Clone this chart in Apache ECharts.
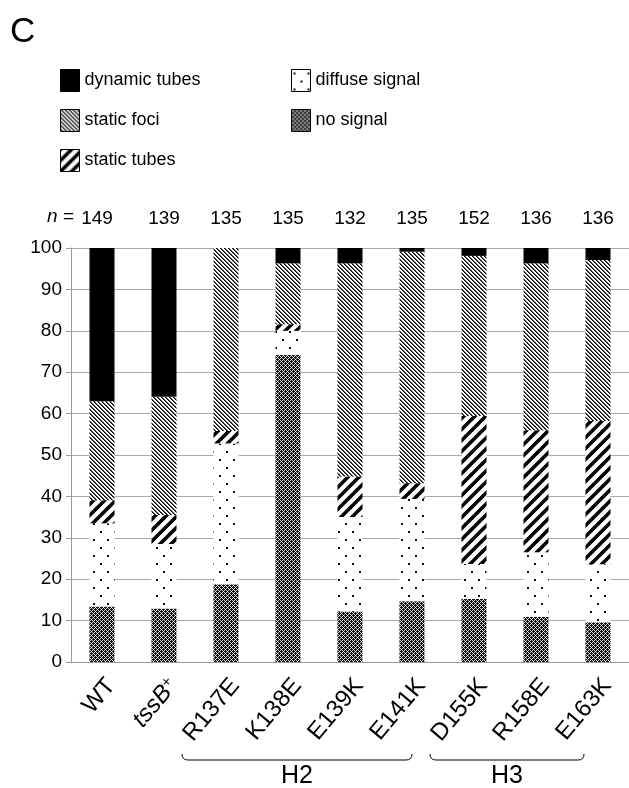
<!DOCTYPE html>
<html>
<head>
<meta charset="utf-8">
<script src="https://cdn.jsdelivr.net/npm/echarts@6.0.0/dist/echarts.min.js"></script>
<style>
	html, body { margin: 0; padding: 0; background: #fff; }
	#chart { width: 629px; height: 788px; }
</style>
</head>
<body>
<div id="chart"></div>
<script>
var categories = ['WT', 'tssB+', 'R137E', 'K138E', 'E139K', 'E141K', 'D155K', 'R158E', 'E163K'];
var nValues = ['149', '139', '135', '135', '132', '135', '152', '136', '136'];
var yTicks = [0, 10, 20, 30, 40, 50, 60, 70, 80, 90, 100];
// percentages, bottom segment first
var noSignal = [13.4, 12.9, 18.8, 74.2, 12.2, 14.7, 15.2, 10.9, 9.6];
var diffuse = [20.1, 15.6, 34.0, 5.8, 22.8, 24.7, 8.5, 15.6, 14.0];
var staticTubes = [5.6, 7.0, 3.0, 1.6, 9.8, 3.8, 35.7, 29.5, 34.6];
var staticFoci = [23.9, 28.6, 44.2, 14.7, 51.5, 55.9, 38.7, 40.3, 38.9];
var dynamicTubes = [37.0, 35.9, 0, 3.7, 3.7, 0.9, 1.9, 3.7, 2.9];
var groups = [
	{ name: 'H2', from: 2, to: 5 },
	{ name: 'H3', from: 6, to: 8 }
];

var font = '"Liberation Sans", Arial, Helvetica, sans-serif';

// 填充图案
function tile(w, h, draw) {
	var c = document.createElement('canvas');
	c.width = w;
	c.height = h;
	var ctx = c.getContext('2d');
	ctx.fillStyle = '#fff';
	ctx.fillRect(0, 0, w, h);
	draw(ctx, w, h);
	return { image: c, repeat: 'repeat' };
}

var fociPattern = tile(4, 4, function(ctx) {
	for (var i = 0; i < 4; i++) {
		ctx.fillStyle = '#000';
		ctx.fillRect(i, i, 1, 1);
		ctx.fillStyle = '#555';
		ctx.fillRect((i + 1) % 4, i, 1, 1);
	}
});

var tubesPattern = tile(11, 11, function(ctx, w, h) {
	ctx.strokeStyle = '#000';
	ctx.lineWidth = 3.6;
	for (var k = -1; k <= 1; k++) {
		ctx.beginPath();
		ctx.moveTo(k * w - 2, h + 2);
		ctx.lineTo(k * w + w + 2, -2);
		ctx.stroke();
	}
});

var diffusePattern = tile(14, 16, function(ctx) {
	ctx.fillStyle = '#111';
	ctx.fillRect(2, 3, 2, 2);
	ctx.fillRect(9, 11, 2, 2);
});

var noSignalPattern = tile(4, 4, function(ctx) {
	ctx.fillStyle = '#111';
	ctx.fillRect(0, 0, 4, 4);
	ctx.fillStyle = '#ccc';
	ctx.fillRect(0, 0, 1, 1);
	ctx.fillRect(2, 2, 1, 1);
	ctx.fillRect(2, 0, 1, 1);
	ctx.fillRect(0, 2, 1, 1);
	ctx.fillStyle = '#fff';
	ctx.fillRect(1, 1, 1, 1);
	ctx.fillRect(3, 3, 1, 1);
});

function barSeries(name, data, color) {
	return {
		name: name,
		type: 'bar',
		stack: 'total',
		barWidth: 25,
		data: data,
		itemStyle: { color: color },
		emphasis: { disabled: true }
	};
}

var chart = echarts.init(document.getElementById('chart'));

var legendCommon = {
	orient: 'vertical',
	top: 64,
	icon: 'rect',
	itemWidth: 19,
	itemHeight: 22,
	itemGap: 17,
	selectedMode: false,
	itemStyle: { borderColor: '#000', borderWidth: 1 },
	textStyle: { fontFamily: font, fontSize: 18, color: '#000' }
};

// 第一个 n 值略向左
var nData = nValues.map(function(v, i) {
	return i === 0 ? { value: v, textStyle: { padding: [0, 10, 0, 0] } } : v;
});

var option = {
	backgroundColor: '#fff',
	animation: false,
	title: {
		text: 'C',
		left: 5,
		top: 10,
		textStyle: { fontFamily: font, fontSize: 35, fontWeight: 'normal', color: '#000' }
	},
	legend: [
		Object.assign({ left: 55, data: ['dynamic tubes', 'static foci', 'static tubes'] }, legendCommon),
		Object.assign({ left: 286, data: ['diffuse signal', 'no signal'] }, legendCommon)
	],
	grid: { left: 71, top: 248, width: 560, height: 414 },
	xAxis: [{
		type: 'category',
		data: categories,
		axisLine: { lineStyle: { color: '#999' } },
		axisTick: { length: 4, lineStyle: { color: '#999' } },
		axisLabel: {
			rotate: 50,
			margin: 12,
			interval: 0,
			verticalAlign: 'top',
			fontFamily: font,
			fontSize: 24,
			color: '#000',
			formatter: function(v) {
				if (v === 'tssB+') return '{it|tssB}{sup|+}';
				return v;
			},
			rich: {
				it: { fontStyle: 'italic', fontFamily: font, fontSize: 24 },
				sup: { fontFamily: font, fontSize: 15, verticalAlign: 'top', padding: [0, 0, 9, 0] }
			}
		}
	}, {
		type: 'category',
		position: 'top',
		data: nData,
		axisLine: { show: false },
		axisTick: { show: false },
		axisLabel: { margin: 20, interval: 0, fontFamily: font, fontSize: 19, color: '#000' }
	}],
	yAxis: {
		type: 'value',
		min: yTicks[0],
		max: yTicks[yTicks.length - 1],
		interval: 10,
		axisLine: { show: true, lineStyle: { color: '#999' } },
		axisTick: { show: true, length: 5, lineStyle: { color: '#999' } },
		splitLine: { lineStyle: { color: '#aaa' } },
		axisLabel: { margin: 9, fontFamily: font, fontSize: 19, color: '#000' }
	},
	series: [
		barSeries('no signal', noSignal, noSignalPattern),
		barSeries('diffuse signal', diffuse, diffusePattern),
		barSeries('static tubes', staticTubes, tubesPattern),
		barSeries('static foci', staticFoci, fociPattern),
		barSeries('dynamic tubes', dynamicTubes, '#000')
	]
};
chart.setOption(option);

// n = 标注和 H2/H3 括号
var gfx = [];
var x0 = chart.convertToPixel({ xAxisIndex: 0 }, 0);
gfx.push({
	type: 'text',
	x: x0 - 28,
	y: 217,
	style: {
		text: '{i|n} =',
		rich: { i: { fontStyle: 'italic', fontFamily: font, fontSize: 19 } },
		fontFamily: font, fontSize: 19, fill: '#000', align: 'right', verticalAlign: 'middle'
	}
});
groups.forEach(function(g, idx) {
	var xa = chart.convertToPixel({ xAxisIndex: 0 }, g.from) - 44;
	var xb = chart.convertToPixel({ xAxisIndex: 0 }, g.to) - (idx === 0 ? 0 : 14);
	var y = 760;
	var line = { stroke: '#000', lineWidth: 1, fill: null };
	gfx.push({ type: 'bezierCurve', shape: { x1: xa, y1: y - 6, x2: xa + 6, y2: y, cpx1: xa, cpy1: y }, style: line });
	gfx.push({ type: 'line', shape: { x1: xa + 6, y1: y, x2: xb - 6, y2: y }, style: line });
	gfx.push({ type: 'bezierCurve', shape: { x1: xb - 6, y1: y, x2: xb, y2: y - 6, cpx1: xb, cpy1: y }, style: line });
	gfx.push({
		type: 'text',
		x: (xa + xb) / 2,
		y: 776,
		style: { text: g.name, fontFamily: font, fontSize: 25, fill: '#000', align: 'center', verticalAlign: 'middle' }
	});
});
chart.setOption({ graphic: gfx });
</script>
</body>
</html>
